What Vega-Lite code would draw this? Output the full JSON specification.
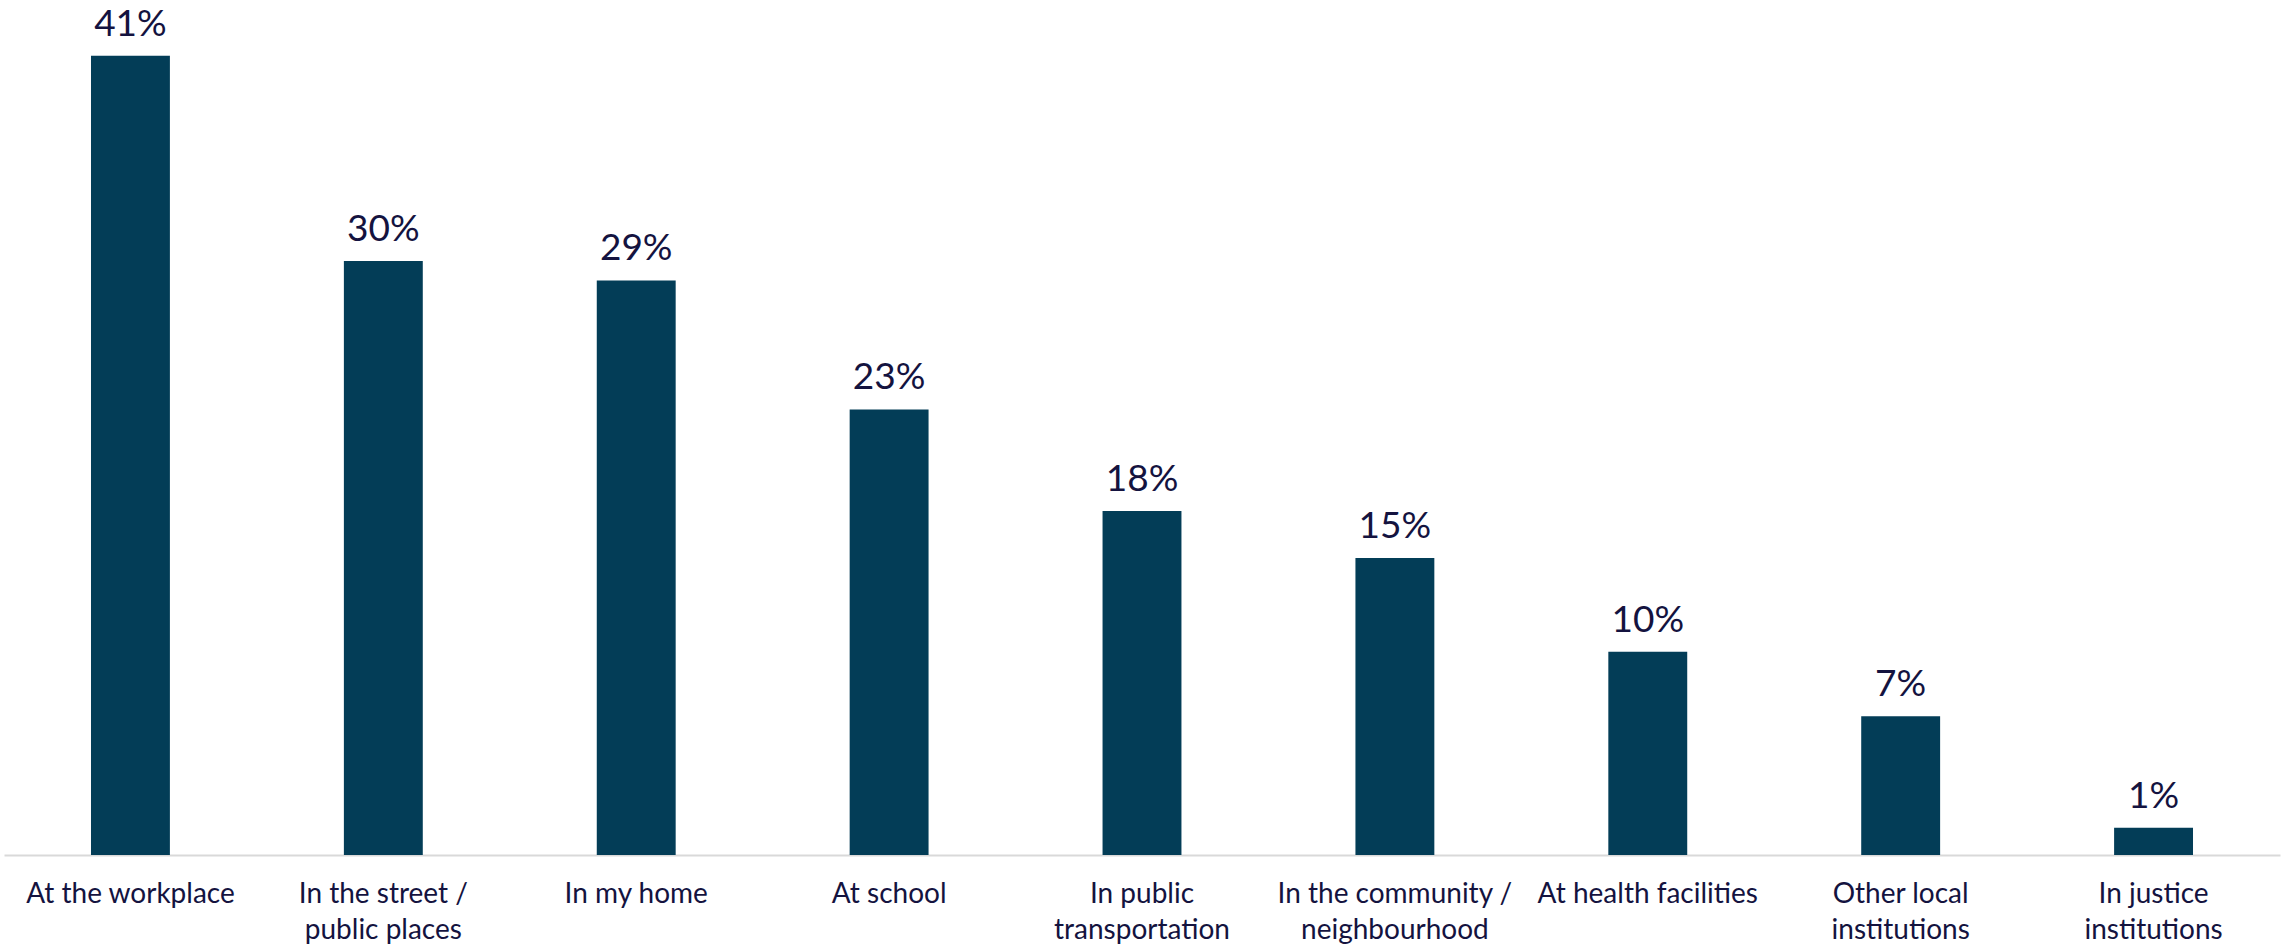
{
  "$schema": "https://vega.github.io/schema/vega-lite/v6.json",
  "width": 2276,
  "height": 855,
  "autosize": {"type": "none"},
  "padding": {"left": 4, "top": 0, "right": 12, "bottom": 95},
  "config": {"view": {"stroke": null}, "font": "Lato", "background": "#ffffff"},
  "data": {
    "values": [
      {"place": "At the workplace", "share": 0.409},
      {"place": "In the street /|public places", "share": 0.304},
      {"place": "In my home", "share": 0.294},
      {"place": "At school", "share": 0.228},
      {"place": "In public|transportation", "share": 0.176},
      {"place": "In the community /|neighbourhood", "share": 0.152},
      {"place": "At health facilities", "share": 0.104},
      {"place": "Other local|institutions", "share": 0.071},
      {"place": "In justice|institutions", "share": 0.014}
    ]
  },
  "encoding": {
    "x": {
      "field": "place",
      "type": "nominal",
      "sort": null,
      "scale": {"paddingInner": 0.688, "paddingOuter": 0.344},
      "axis": {
        "title": null,
        "domain": true,
        "domainColor": "#d9d9d9",
        "domainWidth": 2,
        "ticks": false,
        "grid": false,
        "labelAngle": 0,
        "labelFontSize": 28,
        "labelColor": "#14133f",
        "labelPadding": 25,
        "labelLimit": 0,
        "labelOverlap": false,
        "labelFlush": false,
        "labelBaseline": "top",
        "labelLineHeight": 36,
        "labelExpr": "split(datum.label, '|')"
      }
    },
    "y": {
      "field": "share",
      "type": "quantitative",
      "scale": {"domain": [0, 0.4375], "nice": false},
      "axis": null
    }
  },
  "layer": [
    {"mark": {"type": "bar", "color": "#033d57"}},
    {
      "mark": {"type": "text", "baseline": "alphabetic", "dy": -20, "fontSize": 37, "color": "#14133f"},
      "encoding": {"text": {"field": "share", "type": "quantitative", "format": ".0%"}}
    }
  ]
}
